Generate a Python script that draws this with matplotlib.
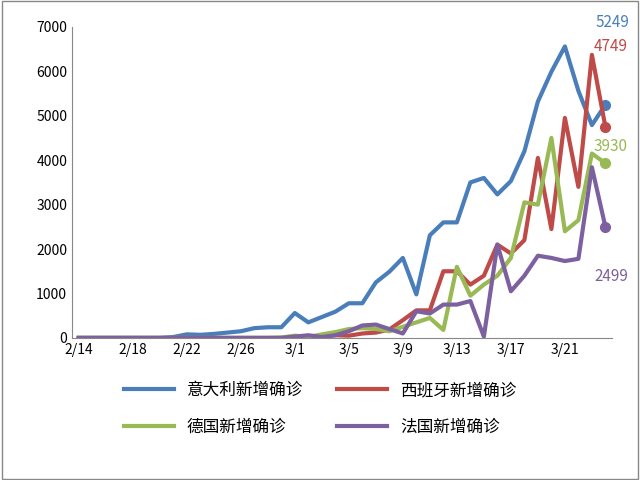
import matplotlib.pyplot as plt
from matplotlib.patches import Rectangle

plt.rcParams['font.family'] = ['Noto Sans CJK SC', 'DejaVu Sans']

# 2/14 .. 3/24
dates = ['2/%d' % d for d in range(14, 30)] + ['3/%d' % d for d in range(1, 25)]

italy = [0, 0, 0, 0, 0, 0, 0, 20, 80, 70, 90, 120, 150, 220, 240, 240,
         560, 350, 470, 590, 780, 780, 1250, 1490, 1800, 980, 2310, 2600, 2600, 3500,
         3600, 3230, 3530, 4200, 5320, 5990, 6560, 5560, 4790, 5249]
spain = [0] * 16 + [20, 30, 40, 60, 50, 100, 120, 190, 400, 620, 620, 1500, 1500, 1200,
                    1400, 2100, 1900, 2200, 4050, 2450, 4950, 3400, 6370, 4749]
germany = [0] * 15 + [10, 50, 20, 80, 130, 200, 220, 200, 150, 250, 350, 450, 180, 1600, 950,
                      1200, 1400, 1800, 3050, 3000, 4500, 2400, 2650, 4150, 3930]
france = [0] * 16 + [30, 60, 20, 60, 150, 280, 300, 200, 100, 600, 550, 750, 750, 830,
                     30, 2100, 1050, 1400, 1850, 1800, 1730, 1780, 3840, 2499]

series = [
    ('意大利新增确诊', italy, '#4a7ebb'),
    ('西班牙新增确诊', spain, '#be4b48'),
    ('德国新增确诊', germany, '#98b954'),
    ('法国新增确诊', france, '#7d60a0'),
]
# label offsets in points from the last point
label_offsets = [(5, 59), (4, 58), (4, 12), (4, -36)]

fig = plt.figure(figsize=(6.4, 4.8), dpi=100)
fig.patches.append(Rectangle((0.003, 0.003), 0.994, 0.994, transform=fig.transFigure,
                             fill=False, edgecolor='#888888', linewidth=1))
ax = fig.add_axes([0.1125, 0.296, 0.844, 0.648])

x = list(range(len(dates)))
handles = []
for (name, vals, color), off in zip(series, label_offsets):
    h, = ax.plot(x, vals, color=color, linewidth=3, label=name)
    handles.append(h)
    ax.plot(x[-1], vals[-1], 'o', color=color, markersize=7)
    ax.annotate(str(vals[-1]), (x[-1], vals[-1]), xytext=off, textcoords='offset points',
                ha='center', va='center', color=color, fontsize=11)

ax.set_xlim(-0.5, len(dates) - 0.5)
ax.set_ylim(0, 7000)
ax.set_yticks(range(0, 7001, 1000))
ax.set_xticks(x[::4])
ax.set_xticklabels(dates[::4])
ax.tick_params(length=0, labelsize=10)
for s in ['top', 'right']:
    ax.spines[s].set_visible(False)
ax.spines['left'].set_color('#888888')
ax.spines['bottom'].set_color('#888888')

# legend fills column-wise, so reorder to get rows: Italy/Spain, Germany/France
order = [0, 2, 1, 3]
fig.legend([handles[i] for i in order], [series[i][0] for i in order],
           loc='lower center', bbox_to_anchor=(0.5, 0.06), ncol=2, frameon=False,
           fontsize=12, handlelength=3, columnspacing=2, labelspacing=1.2)

fig.savefig('out.png')
